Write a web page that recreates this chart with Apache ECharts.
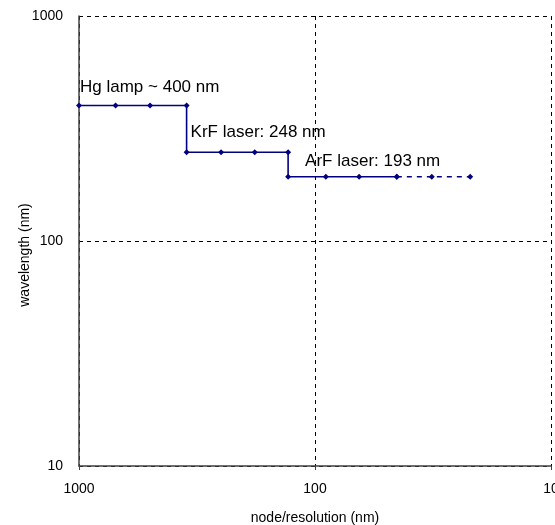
<!DOCTYPE html>
<html>
<head>
<meta charset="utf-8">
<script src="https://cdn.jsdelivr.net/npm/echarts@6/dist/echarts.min.js"></script>
<style>
html,body{margin:0;padding:0;background:#fff;}
#chart{width:555px;height:525px;}
</style>
</head>
<body>
<div id="chart"></div>
<script>
// node / resolution (nm) and wavelength (nm) for the step line
const nodes = [1000, 700, 500, 350, 350, 250, 180, 130, 130, 90, 65, 45];
const wavelengths = [400, 400, 400, 400, 248, 248, 248, 248, 193, 193, 193, 193];
// projected (dashed) continuation
const projNodes = [45, 32, 22];
const projWavelengths = [193, 193, 193];
// annotations
const annotationText = ['Hg lamp ~ 400 nm', 'KrF laser: 248 nm', 'ArF laser: 193 nm'];
const annotationNode = [1000, 350, 130];
const annotationWl = [400, 248, 193];
// axis titles
const xTitle = 'node/resolution (nm)';
const yTitle = 'wavelength (nm)';

const lineColor = '#000080';
const font = 'Liberation Sans, Arial, sans-serif';
const annOffsets = [[1, -18], [4, -20], [17, -15]];

const chart = echarts.init(document.getElementById('chart'), null, {renderer: 'canvas'});
chart.setOption({
  animation: false,
  backgroundColor: '#ffffff',
  grid: {left: 79, right: 4, top: 16, bottom: 59, containLabel: false, outerBoundsMode: 'none'},
  xAxis: {
    type: 'log', logBase: 10, min: 10, max: 1000, inverse: true,
    name: xTitle, nameLocation: 'middle', nameGap: 45,
    nameTextStyle: {fontFamily: font, fontSize: 14, color: '#000'},
    axisLine: {show: true, lineStyle: {color: '#404040', width: 1.5}},
    axisTick: {show: true, length: 4, lineStyle: {color: '#404040'}},
    axisLabel: {fontFamily: font, fontSize: 14, color: '#000', margin: 16, formatter: v => String(v)},
    splitLine: {show: true, lineStyle: {color: '#000', type: [4, 4], width: 1}},
    minorTick: {show: false}
  },
  yAxis: {
    type: 'log', logBase: 10, min: 10, max: 1000,
    name: yTitle, nameLocation: 'middle', nameGap: 47, nameRotate: 90, nameMoveOverlap: false,
    nameTextStyle: {fontFamily: font, fontSize: 14, color: '#000', padding: [0, 28, 0, 0]},
    axisLine: {show: true, lineStyle: {color: '#404040', width: 1.5}},
    axisTick: {show: false},
    axisLabel: {fontFamily: font, fontSize: 14, color: '#000', margin: 16, formatter: v => String(v)},
    splitLine: {show: true, lineStyle: {color: '#000', type: [4, 4], width: 1}}
  },
  series: [
    {
      type: 'line',
      data: nodes.map((n, i) => [n, wavelengths[i]]),
      symbol: 'diamond', symbolSize: 6, showAllSymbol: true,
      itemStyle: {color: lineColor},
      lineStyle: {color: lineColor, width: 1.6},
      markPoint: {
        symbol: 'circle', symbolSize: 0,
        label: {show: true, fontFamily: font, fontSize: 17, color: '#000', position: 'inside', align: 'left', verticalAlign: 'middle'},
        data: annotationText.map((t, i) => ({
          coord: [annotationNode[i], annotationWl[i]],
          label: {formatter: t, offset: annOffsets[i]}
        }))
      },
      z: 3
    },
    {
      type: 'line',
      data: projNodes.map((n, i) => [n, projWavelengths[i]]),
      symbol: 'diamond', symbolSize: 6, showAllSymbol: true,
      itemStyle: {color: lineColor},
      lineStyle: {color: lineColor, width: 1.6, type: [5, 5]},
      z: 3
    }
  ]
});
</script>
</body>
</html>
